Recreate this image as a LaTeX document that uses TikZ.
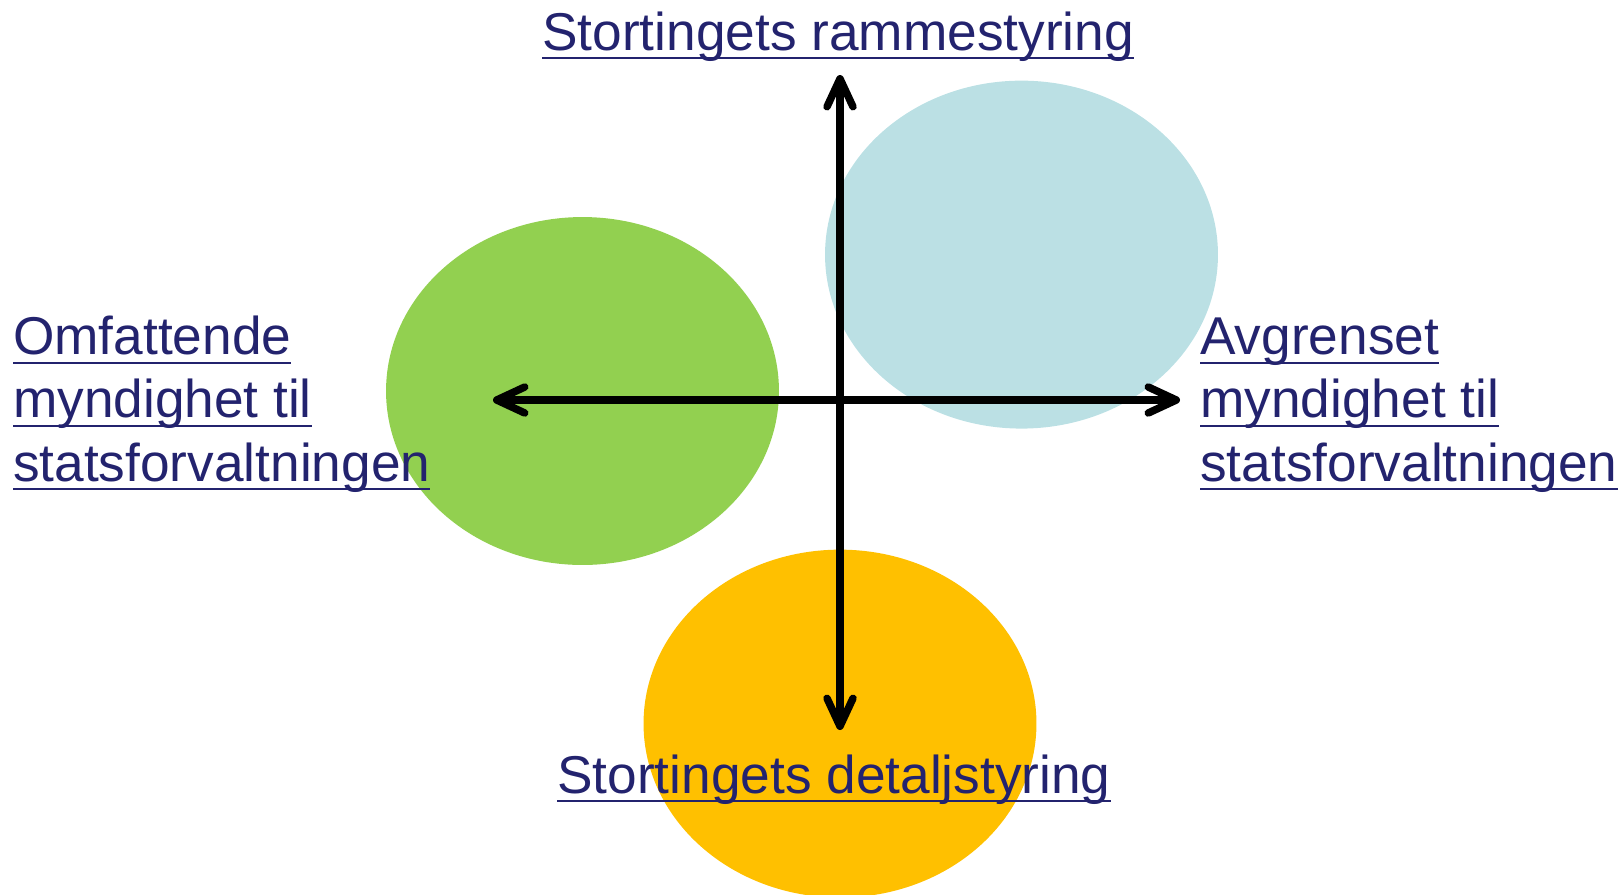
\documentclass[tikz,border=0pt]{standalone}
\usepackage{fontspec}
\setmainfont{Liberation Sans}
\usetikzlibrary{shapes.geometric,arrows.meta}
\definecolor{linknavy}{RGB}{35,35,110}
\definecolor{leafgreen}{RGB}{146,208,80}
\definecolor{paleaqua}{RGB}{187,224,228}
\definecolor{amber}{RGB}{255,192,0}
\newcommand{\lnk}[1]{\setbox0=\hbox{#1}\rlap{\rule[-0.17em]{\wd0}{0.045em}}\box0}
\tikzset{
 blob/.style={ellipse, inner sep=0pt, minimum width=7.86cm, minimum height=6.96cm},
 barb/.tip={Straight Barb[length=0.56cm,width=0.52cm,round]},
 axis/.style={line width=0.15cm, barb-barb},
 lbl/.style={text=linknavy, inner sep=0pt, align=left, font=\fontsize{30.3pt}{35.9pt}\selectfont}
}
\begin{document}
\begin{tikzpicture}[x=0.02cm,y=-0.02cm]
 \useasboundingbox (0,0) rectangle (1623,894);
 %
 \node[blob, fill=leafgreen] (omf) at (582.5,391) {};
 \node[blob, fill=paleaqua] (avg) at (1021.5,254.6) {};
 \node[blob, fill=amber] (det) at (840,723.6) {};
 %
 \coordinate (up) at (840,75);
 \coordinate (down) at (840,730);
 \coordinate (west) at (493,400);
 \coordinate (east) at (1180,400);
 \draw[axis] (down) -- (up);
 \draw[axis] (west) -- (east);
 %
 \node[lbl, anchor=base west] (rammetxt) at (542,50) {\lnk{Stortingets rammestyring}};
 \node[lbl, anchor=base west] (dettxt) at (557,793) {\lnk{Stortingets detaljstyring}};
 \node[lbl, anchor=base west] (omftxt) at (12.7,481) {\lnk{Omfattende}\\\lnk{myndighet til}\\\lnk{statsforvaltningen}};
 \node[lbl, anchor=base west] (avgtxt) at (1200,481) {\lnk{Avgrenset}\\\lnk{myndighet til}\\\lnk{statsforvaltningen}};
\end{tikzpicture}
\end{document}
